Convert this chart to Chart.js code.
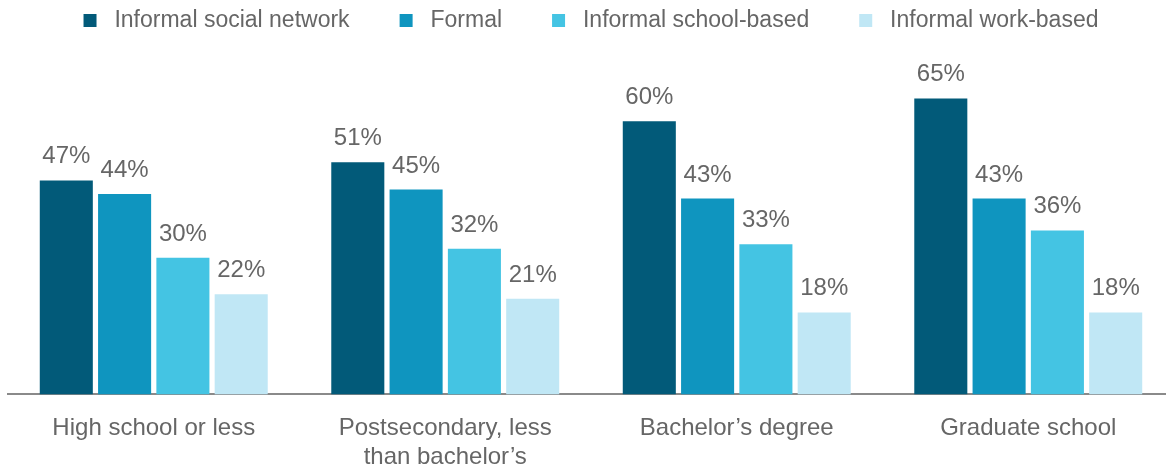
<!DOCTYPE html>
<html>
<head>
<meta charset="utf-8">
<script src="https://cdn.jsdelivr.net/npm/chart.js@4"></script>
<style>
  html, body { margin: 0; padding: 0; background: #fff; }
  #wrap { width: 1166px; height: 471px; overflow: hidden; }
  #inner { width: 1174px; height: 471px; position: relative; }
</style>
</head>
<body>
<div id="wrap"><div id="inner"><canvas id="chart"></canvas></div></div>
<script>
// education level groups
const categories = [
    'High school or less',
    ['Postsecondary, less', 'than bachelor\u2019s'],
    'Bachelor\u2019s degree',
    'Graduate school'
];

const seriesNames = ['Informal social network', 'Formal', 'Informal school-based', 'Informal work-based'];

const socialNetwork = [47, 51, 60, 65];
const formal = [44, 45, 43, 43];
const schoolBased = [30, 32, 33, 36];
const workBased = [22, 21, 18, 18];

const colors = ['#025a79', '#0f95bf', '#44c4e3', '#c0e7f5'];
const FONT = '"Liberation Sans", Arial, sans-serif';

// draws "NN%" above every bar
const valueLabels = {
    id: 'valueLabels',
    afterDatasetsDraw(chart) {
        const ctx = chart.ctx;
        ctx.save();
        ctx.font = '24px ' + FONT;
        ctx.fillStyle = '#666';
        ctx.textAlign = 'center';
        ctx.textBaseline = 'alphabetic';
        chart.data.datasets.forEach((ds, i) => {
            chart.getDatasetMeta(i).data.forEach((bar, j) => {
                ctx.fillText(ds.data[j] + '%', bar.x, bar.y - 17);
            });
        });
        ctx.restore();
    }
};

const allSeries = [socialNetwork, formal, schoolBased, workBased];

new Chart(document.getElementById('chart'), {
    type: 'bar',
    data: {
        labels: categories,
        datasets: allSeries.map((vals, i) => ({
            label: seriesNames[i],
            data: vals,
            backgroundColor: colors[i],
            borderWidth: 0,
            categoryPercentage: 0.80,
            barPercentage: 0.91
        }))
    },
    options: {
        responsive: true,
        maintainAspectRatio: false,
        animation: false,
        events: [],
        layout: { padding: { left: 8, right: 0, top: -41, bottom: -21 } },
        plugins: {
            tooltip: { enabled: false },
            legend: {
                position: 'top',
                labels: {
                    boxWidth: 13,
                    boxHeight: 13,
                    padding: 50,
                    color: '#666',
                    font: { family: FONT, size: 23 },
                    generateLabels(chart) {
                        // leading space widens the gap between swatch and text
                        return Chart.defaults.plugins.legend.labels.generateLabels(chart)
                            .map(item => Object.assign(item, { text: ' ' + item.text }));
                    }
                }
            }
        },
        scales: {
            x: {
                grid: { display: false, drawTicks: false },
                border: { display: true, color: '#8a8a8a', width: 2 },
                ticks: {
                    color: '#666',
                    padding: 20,
                    font: { family: FONT, size: 24 }
                }
            },
            y: {
                display: false,
                min: 0,
                max: 77.4
            }
        }
    },
    plugins: [valueLabels]
});
</script>
</body>
</html>
